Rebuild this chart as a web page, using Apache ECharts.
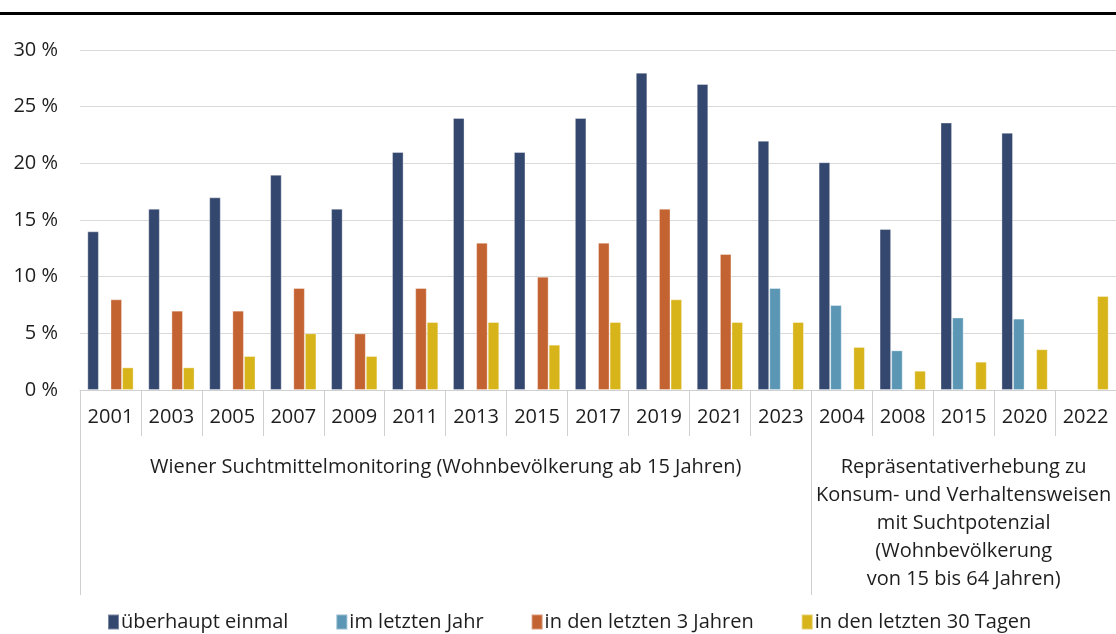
<!DOCTYPE html>
<html>
<head>
<meta charset="utf-8">
<script src="https://cdn.jsdelivr.net/npm/echarts@6/dist/echarts.min.js"></script>
<style>
  html, body { margin: 0; padding: 0; background: #fff; }
  #chart { width: 1116px; height: 634px; }
</style>
</head>
<body>
<div id="chart"></div>
<script>
// Erhebungsjahre: 12 x Wiener Suchtmittelmonitoring, 5 x Repräsentativerhebung
var years = ['2001', '2003', '2005', '2007', '2009', '2011', '2013', '2015', '2017', '2019', '2021', '2023',
  '2004', '2008', '2015', '2020', '2022'];

var groupLabels = [
  'Wiener Suchtmittelmonitoring (Wohnbevölkerung ab 15 Jahren)',
  'Repräsentativerhebung zu\nKonsum- und Verhaltensweisen\nmit Suchtpotenzial\n(Wohnbevölkerung\nvon 15 bis 64 Jahren)'
];
var groupBounds = [0, 12, 17];
var groupCenters = [6, 14.5];

var everOnce = [14, 16, 17, 19, 16, 21, 24, 21, 24, 28, 27, 22, 20.1, 14.2, 23.6, 22.7, null];
var lastYear = [null, null, null, null, null, null, null, null, null, null, null, 9, 7.5, 3.5, 6.4, 6.3, null];
var last3Years = [8, 7, 7, 9, 5, 9, 13, 10, 13, 16, 12, null, null, null, null, null, null];
var last30Days = [2, 2, 3, 5, 3, 6, 6, 4, 6, 8, 6, 6, 3.8, 1.7, 2.5, 3.6, 8.3];

var seriesNames = ['überhaupt einmal', 'im letzten Jahr', 'in den letzten 3 Jahren', 'in den letzten 30 Tagen'];
var colors = ['#34476e', '#5b97b5', '#c46332', '#d8b41b'];
var values = [everOnce, lastYear, last3Years, last30Days];

var font = '"Open Sans", "Noto Sans", sans-serif';
var textColor = '#1e1e1e';
var lineGrey = '#d0d0d0';

var chart = echarts.init(document.getElementById('chart'));

var series = seriesNames.map(function (name, i) {
  return {
    name: name,
    type: 'bar',
    data: values[i],
    barGap: '0%',
    barCategoryGap: '24%',
    itemStyle: { color: colors[i], borderColor: 'rgba(255,255,255,0.35)', borderWidth: 1 }
  };
});

chart.setOption({
  animation: false,
  textStyle: { fontFamily: font },
  graphic: [{
    type: 'rect',
    shape: { x: 0, y: 12, width: 1116, height: 3 },
    style: { fill: '#000' }
  }],
  grid: { left: 80, top: 50, width: 1037, height: 340 },
  legend: {
    left: 102,
    bottom: -3,
    icon: 'rect',
    itemWidth: 11,
    itemHeight: 15,
    itemGap: 47,
    textStyle: { fontSize: 20, color: textColor, fontFamily: font, padding: [0, 0, 0, -3] },
    data: seriesNames
  },
  yAxis: {
    type: 'value',
    min: 0,
    max: 30,
    interval: 5,
    axisLine: { show: false },
    axisTick: { show: false },
    axisLabel: { formatter: '{value} %', fontSize: 20, color: textColor, margin: 22 },
    splitLine: { lineStyle: { color: '#d9d9d9', width: 1 } }
  },
  xAxis: [{
    type: 'category',
    data: years,
    axisLine: { lineStyle: { color: lineGrey, width: 1 } },
    axisTick: { show: true, interval: 0, alignWithLabel: false, length: 46, lineStyle: { color: lineGrey } },
    axisLabel: { interval: 0, fontSize: 20, color: textColor, margin: 17 }
  }, {
    type: 'value',
    min: 0,
    max: 17,
    position: 'bottom',
    offset: 46,
    axisLine: { show: false },
    splitLine: { show: false },
    axisTick: { show: true, customValues: groupBounds, length: 159, lineStyle: { color: lineGrey } },
    axisLabel: {
      customValues: groupCenters,
      fontSize: 20,
      lineHeight: 28,
      color: textColor,
      margin: 17,
      align: 'center',
      formatter: function (v) { return v < groupBounds[1] ? groupLabels[0] : groupLabels[1]; }
    }
  }],
  series: series
});
</script>
</body>
</html>
